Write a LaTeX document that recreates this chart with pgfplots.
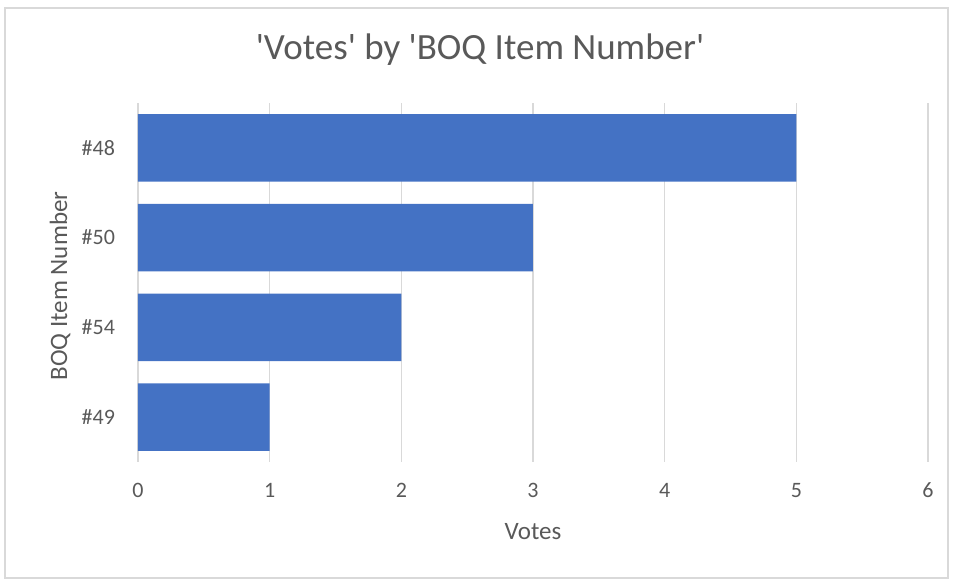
\documentclass[border=0pt]{standalone}
\usepackage{pgfplots}
\pgfplotsset{compat=1.18}
\usepackage{fontspec}
\setmainfont{Carlito}
\newfontfamily\plainfont{Carlito}
\definecolor{barblue}{HTML}{4472C4}
\definecolor{txtgray}{HTML}{595959}
\definecolor{gridgray}{HTML}{D9D9D9}
\begin{document}
\begin{tikzpicture}
\path[use as bounding box] (0,0) rectangle (477.5pt,291pt);
\draw[gridgray, line width=0.8pt] (2.5pt,2pt) rectangle (474pt,287pt);
\node[txtgray, font=\plainfont\fontsize{18.5}{21}\selectfont] at (240pt,266pt) {'Votes' by 'BOQ Item Number'};
\begin{axis}[
  at={(69pt,60pt)}, anchor=south west,
  scale only axis, width=395pt, height=179.5pt,
  xbar, bar width=0.75,
  xmin=0, xmax=6, ymin=-0.5, ymax=3.5,
  xtick={0,1,2,3,4,5,6},
  ytick={0,1,2,3},
  yticklabels={\#49,\#54,\#50,\#48},
  /pgf/number format/assume math mode=true,
  tick label style={txtgray, font=\fontsize{11}{13}\selectfont},
  xticklabel style={yshift=-7pt},
  yticklabel style={xshift=-8pt},
  major tick length=0pt,
  xmajorgrids, grid style={gridgray, line width=0.8pt},
  axis x line*=bottom, x axis line style={draw=none},
  axis y line*=left, y axis line style={gridgray, line width=0.8pt, -},
  clip=false,
]
\addplot[fill=barblue, draw=none] coordinates {(1,0) (2,1) (3,2) (5,3)};
\end{axis}
\node[txtgray, font=\fontsize{12.5}{15}\selectfont] at (266.5pt,25pt) {Votes};
\node[txtgray, font=\fontsize{12.5}{15}\selectfont, rotate=90] at (30pt,148pt) {BOQ Item Number};
\end{tikzpicture}
\end{document}
